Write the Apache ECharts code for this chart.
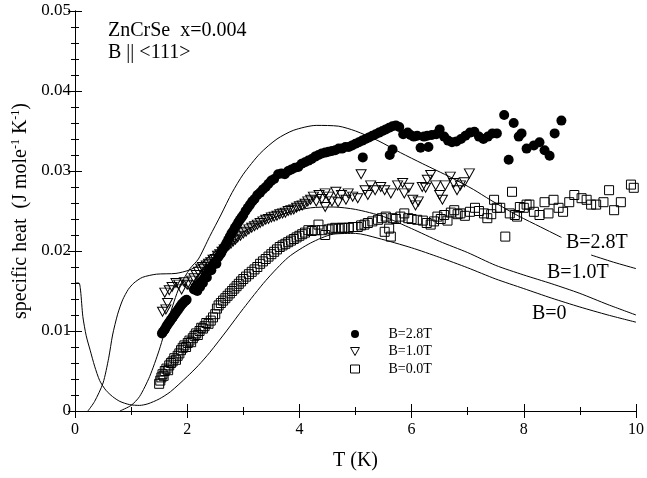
<!DOCTYPE html>
<html><head><meta charset="utf-8">
<script src="https://cdn.jsdelivr.net/npm/echarts@6/dist/echarts.min.js"></script>
<style>html,body{margin:0;padding:0;background:#fff}#c{width:647px;height:478px}</style>
</head><body><div id="c"></div>
<script>
// ---- theory curves ----
const curveB0T = [0, 0.07, 0.1, 0.14, 0.2, 0.27, 0.35, 0.44, 0.55, 0.67, 0.8, 0.97, 1.15, 1.3, 1.5, 1.7, 2.0, 2.2, 2.4, 2.7, 3.0, 3.4, 3.8, 4.2, 4.6, 5.0, 5.4, 6.0, 6.5, 7.0, 7.5, 8.0, 8.5, 9.0, 9.5, 10];
const curveB0V = [0.0160, 0.0160, 0.0150, 0.0118, 0.0094, 0.0076, 0.0056, 0.0038, 0.0026, 0.0018, 0.0012, 0.0008, 0.0007, 0.0009, 0.0015, 0.0024, 0.0043, 0.0057, 0.0073, 0.0100, 0.0128, 0.0163, 0.0192, 0.0210, 0.0221, 0.0222, 0.0216, 0.0204, 0.0192, 0.0179, 0.0165, 0.0153, 0.0141, 0.0130, 0.0120, 0.0111];
const curveB1T = [0.23, 0.35, 0.5, 0.6, 0.67, 0.76, 0.85, 0.95, 1.05, 1.2, 1.45, 1.8, 2.03, 2.2, 2.5, 2.8, 3.1, 3.4, 3.8, 4.2, 4.6, 5.0, 5.5, 6.0, 6.5, 7.0, 7.5, 8.0, 8.5, 9.0, 9.5, 10];
const curveB1V = [0, 0.0012, 0.0035, 0.0066, 0.0095, 0.0121, 0.0139, 0.0152, 0.0160, 0.0167, 0.0171, 0.0172, 0.0176, 0.0182, 0.0199, 0.0215, 0.0228, 0.0238, 0.0248, 0.0254, 0.0255, 0.0252, 0.0243, 0.0228, 0.0212, 0.0198, 0.0182, 0.0170, 0.0159, 0.0147, 0.0133, 0.0120];
const curveB28T = [0.8, 1.0, 1.15, 1.33, 1.5, 1.68, 1.86, 2.05, 2.2, 2.4, 2.6, 2.8, 3.0, 3.3, 3.6, 3.9, 4.3, 4.7, 5.0, 5.4, 5.8, 6.2, 6.7, 7.1, 7.4, 7.9, 8.3, 8.67, 8.9, 9.2, 9.6, 10];
const curveB28V = [0, 0.0007, 0.0018, 0.0043, 0.0076, 0.0118, 0.0155, 0.0178, 0.0190, 0.0218, 0.0245, 0.0273, 0.0296, 0.0322, 0.0340, 0.0351, 0.0357, 0.0356, 0.0350, 0.0338, 0.0323, 0.0309, 0.0292, 0.0277, 0.0264, 0.0244, 0.0230, 0.0217, null, 0.0195, 0.0186, 0.0178];

// ---- measured data [T, C] ----
const dataB28 = [
[1.55,0.0097],[1.57,0.0099],[1.59,0.0101],[1.61,0.0103],[1.63,0.0106],[1.65,0.0108],[1.67,0.0110],[1.69,0.0112],[1.71,0.0114],[1.73,0.0116],[1.75,0.0118],[1.77,0.0120],[1.79,0.0122],[1.81,0.0124],[1.83,0.0126],[1.85,0.0128],[1.87,0.0130],[1.89,0.0132],[1.91,0.0134],[1.93,0.0135],[1.95,0.0137],[1.97,0.0138],[1.99,0.0139],
[2.12,0.0152],[2.15,0.0155],[2.18,0.0150],[2.2,0.0158],[2.23,0.0155],[2.25,0.0162],[2.28,0.0160],[2.3,0.0166],[2.33,0.0170],[2.35,0.0167],[2.38,0.0175],[2.4,0.0178],[2.43,0.0176],[2.46,0.0183],[2.49,0.0186],[2.52,0.0184],[2.55,0.0192],[2.58,0.0195],[2.61,0.0198],[2.64,0.0203],[2.67,0.0206],[2.7,0.0210],[2.73,0.0214],[2.76,0.0218],[2.79,0.0222],[2.82,0.0225],[2.85,0.0229],[2.88,0.0232],[2.91,0.0236],[2.94,0.0239],[2.97,0.0242],[3.0,0.0245],[3.04,0.0250],[3.08,0.0254],[3.12,0.0258],[3.16,0.0262],[3.2,0.0265],[3.25,0.0270],[3.3,0.0273],[3.35,0.0277],[3.4,0.0280],[3.45,0.0284],[3.5,0.0288],[3.55,0.0290],[3.62,0.0296],[3.68,0.0297],[3.74,0.0296],[3.8,0.0300],[3.86,0.0302],[3.92,0.0304],[3.98,0.0305],[4.04,0.0309],[4.1,0.0311],[4.16,0.0313],[4.22,0.0315],[4.28,0.0318],[4.34,0.0320],[4.4,0.0322],[4.46,0.0323],[4.52,0.0324],[4.58,0.0325],[4.64,0.0326],[4.7,0.0328],[4.76,0.0328],[4.82,0.0330],[4.88,0.0330],[4.94,0.0332],[5.0,0.0334],[5.06,0.0336],[5.12,0.0338],[5.18,0.0340],[5.24,0.0342],[5.3,0.0344],[5.36,0.0346],[5.42,0.0348],[5.48,0.0350],[5.54,0.0352],[5.6,0.0354],[5.66,0.0356],[5.72,0.0357],[5.78,0.0355],
[5.13,0.0317],[5.61,0.0320],[5.66,0.0327],
[5.85,0.0346],[5.93,0.0348],[5.98,0.0345],[6.04,0.0343],[6.1,0.0344],[6.16,0.0329],[6.3,0.0330],[6.22,0.0343],[6.28,0.0344],[6.36,0.0345],[6.44,0.0346],[6.5,0.0352],[6.58,0.0343],[6.65,0.0338],[6.72,0.0336],[6.8,0.0337],[6.88,0.0340],[6.96,0.0344],[7.04,0.0348],[7.12,0.0349],[7.2,0.0343],[7.28,0.0340],[7.36,0.0343],[7.44,0.0347],[7.52,0.0347],[7.65,0.0370],[7.82,0.0360],[7.73,0.0314],[7.91,0.0343],[7.96,0.0347],[8.05,0.0328],[8.18,0.0332],[8.28,0.0336],[8.37,0.0326],[8.46,0.0319],[8.55,0.0347],[8.67,0.0363]
];
const dataB10 = [
[1.56,0.0124],[1.62,0.0127],[1.65,0.0135],[1.6,0.0148],[1.68,0.0151],[1.73,0.0155],[1.8,0.0160],[1.85,0.0158],[1.9,0.0152],[1.95,0.0161],[2.0,0.0158],[2.04,0.0157],[2.08,0.0163],[2.12,0.0166],[2.16,0.0170],[2.2,0.0174],[2.24,0.0178],[2.27,0.0180],
[2.3,0.0177],[2.34,0.0182],[2.38,0.0184],[2.42,0.0186],[2.46,0.0189],[2.5,0.0190],[2.54,0.0194],[2.58,0.0196],[2.62,0.0199],[2.66,0.0202],[2.7,0.0204],[2.74,0.0207],[2.78,0.0209],[2.82,0.0212],[2.86,0.0214],[2.9,0.0217],[2.95,0.0219],[3.0,0.0222],[3.05,0.0224],[3.1,0.0227],[3.15,0.0229],[3.2,0.0231],[3.25,0.0233],[3.3,0.0235],[3.35,0.0237],[3.4,0.0239],[3.45,0.0240],[3.5,0.0242],[3.55,0.0243],[3.6,0.0244],[3.65,0.0246],[3.7,0.0247],[3.75,0.0248],[3.8,0.0250],[3.85,0.0251],[3.9,0.0252],[3.95,0.0254],[4.0,0.0256],[4.05,0.0257],[4.1,0.0259],[4.15,0.0262],[4.2,0.0264],[4.25,0.0268],[4.3,0.0262],[4.35,0.0270],[4.4,0.0265],[4.46,0.0272],[4.46,0.0255],[4.52,0.0268],[4.58,0.0262],[4.65,0.0274],[4.69,0.0261],[4.75,0.0270],[4.83,0.0264],[4.87,0.0272],[4.95,0.0268],[5.04,0.0266],[5.1,0.0296],[5.17,0.0276],[5.22,0.0270],[5.27,0.0282],[5.35,0.0276],[5.45,0.0280],[5.52,0.0276],[5.63,0.0272],[5.75,0.0282],[5.84,0.0285],[5.87,0.0272],[5.95,0.0279],[6.02,0.0264],[6.07,0.0257],[6.12,0.0262],[6.19,0.0280],[6.25,0.0279],[6.28,0.0289],[6.34,0.0295],[6.43,0.0282],[6.5,0.0270],[6.55,0.0264],[6.6,0.0282],[6.69,0.0293],[6.75,0.0285],[6.81,0.0276],[6.87,0.0282],[6.94,0.0286],[7.03,0.0297]
];
const dataB00 = [
[1.5,0.0034],[1.52,0.0038],[1.54,0.0042],[1.56,0.0046],[1.58,0.0044],[1.6,0.0050],[1.63,0.0053],[1.66,0.0051],[1.68,0.0057],[1.71,0.0060],[1.74,0.0062],[1.77,0.0066],[1.8,0.0064],[1.83,0.0069],[1.86,0.0072],[1.89,0.0076],[1.92,0.0079],[1.95,0.0082],[1.98,0.0080],[2.01,0.0085],[2.04,0.0088],[2.07,0.0086],[2.1,0.0091],[2.13,0.0094],[2.16,0.0097],[2.19,0.0095],[2.22,0.0100],[2.25,0.0104],[2.28,0.0103],[2.31,0.0106],[2.34,0.0110],[2.38,0.0109],[2.42,0.0113],[2.46,0.0117],[2.5,0.0121],[2.53,0.0128],[2.56,0.0132],[2.6,0.0135],[2.64,0.0138],[2.68,0.0141],[2.72,0.0144],[2.76,0.0147],[2.8,0.0150],[2.84,0.0153],[2.88,0.0156],[2.92,0.0159],[2.96,0.0162],[3.0,0.0165],[3.05,0.0168],[3.1,0.0171],[3.15,0.0174],[3.2,0.0177],[3.25,0.0180],[3.3,0.0184],[3.35,0.0187],[3.4,0.0190],[3.45,0.0193],[3.5,0.0196],[3.55,0.0199],[3.6,0.0202],[3.65,0.0205],[3.7,0.0207],[3.75,0.0209],[3.8,0.0211],[3.85,0.0213],[3.9,0.0215],[3.95,0.0217],[4.0,0.0219],[4.05,0.0221],[4.1,0.0223],[4.16,0.0226],[4.22,0.0225],[4.28,0.0226],[4.34,0.0233],[4.4,0.0226],[4.46,0.0220],[4.52,0.0227],[4.58,0.0228],[4.64,0.0229],[4.7,0.0228],[4.76,0.0229],[4.81,0.0229],[4.88,0.0229],[4.95,0.0230],[5.04,0.0230],[5.1,0.0232],[5.16,0.0233],[5.22,0.0235],[5.3,0.0237],[5.4,0.0239],[5.47,0.0241],[5.52,0.0224],[5.54,0.0243],[5.6,0.0228],[5.63,0.0218],[5.66,0.0241],[5.72,0.0240],[5.8,0.0243],[5.87,0.0247],[5.94,0.0241],[6.0,0.0240],[6.1,0.0239],[6.2,0.0238],[6.27,0.0235],[6.34,0.0233],[6.4,0.0237],[6.46,0.0243],[6.52,0.0240],[6.58,0.0245],[6.64,0.0238],[6.7,0.0248],[6.76,0.0251],[6.82,0.0246],[6.87,0.0247],[6.95,0.0244],[7.04,0.0249],[7.13,0.0254],[7.2,0.0250],[7.29,0.0247],[7.35,0.0241],[7.42,0.0246],[7.47,0.0264],[7.52,0.0254],[7.58,0.0254],[7.67,0.0218],[7.75,0.0247],[7.79,0.0274],[7.84,0.0245],[7.88,0.0243],[7.93,0.0255],[8.0,0.0254],[8.05,0.0258],[8.1,0.0258],[8.18,0.0249],[8.28,0.0245],[8.37,0.0261],[8.44,0.0247],[8.53,0.0264],[8.62,0.0254],[8.7,0.0249],[8.81,0.0261],[8.9,0.0270],[9.03,0.0266],[9.12,0.0264],[9.2,0.0258],[9.29,0.0258],[9.42,0.0261],[9.52,0.0276],[9.61,0.0251],[9.73,0.0261],[9.91,0.0283],[9.96,0.0279]
];
const xTicks = [0, 2, 4, 6, 8, 10];
const yTicks = [0, 0.01, 0.02, 0.03, 0.04, 0.05];
const seriesNames = ['B=2.8T', 'B=1.0T', 'B=0.0T'];
const curveNames = ['B=2.8T', 'B=1.0T', 'B=0'];

const FONT = 'Liberation Serif';
const TRI = 'path://M0,0L10,0L5,9Z';
const zip = (a, b) => a.map((t, i) => [t, b[i]]);
const chart = echarts.init(document.getElementById('c'));
const axisBase = {
  type: 'value', axisLine: { show: true, lineStyle: { color: '#000', width: 1 } },
  axisTick: { show: true, inside: true, length: 7, lineStyle: { color: '#000' } },
  minorTick: { show: true, length: 4, lineStyle: { color: '#000' } },
  splitLine: { show: false }
};
const lineS = (name, d) => ({
  type: 'line', name: name + ' fit', data: d, showSymbol: false, symbol: 'none', smooth: 0.25,
  lineStyle: { color: '#000', width: 1 }, z: 5, silent: true, connectNulls: false
});
const open = { color: 'rgba(0,0,0,0)', borderColor: '#000', borderWidth: 1, opacity: 1 };
chart.setOption({
  animation: false,
  grid: { left: 75, right: 7, top: 11, bottom: 67 },
  xAxis: [
    Object.assign({}, axisBase, { min: 0, max: 10, interval: 2, minorTick: Object.assign({}, axisBase.minorTick, { splitNumber: 2 }),
      axisLabel: { fontFamily: FONT, fontSize: 16, color: '#000', margin: 11, formatter: v => xTicks.includes(v) ? String(v) : '' },
      name: 'T (K)', nameLocation: 'middle', nameGap: 40, nameTextStyle: { fontFamily: FONT, fontSize: 20, color: '#000' } }),
    Object.assign({}, axisBase, { position: 'top', min: 0, max: 10, interval: 2, minorTick: Object.assign({}, axisBase.minorTick, { splitNumber: 2 }), axisLabel: { show: false } })
  ],
  yAxis: [
    Object.assign({}, axisBase, { min: 0, max: 0.05, interval: 0.01, minorTick: Object.assign({}, axisBase.minorTick, { splitNumber: 5 }),
      axisLabel: { fontFamily: FONT, fontSize: 17, color: '#000', margin: 4, formatter: v => { const k = yTicks.findIndex(t => Math.abs(t - v) < 1e-9); return k < 0 ? '' : (k === 0 ? '0' : yTicks[k].toFixed(2)); } },
      name: '{n|specific heat  (J mole}{s|-1}{n| K}{s|-1}{n|)}', nameLocation: 'middle', nameGap: 36, nameRotate: 90,
      nameTextStyle: { rich: { n: { fontFamily: FONT, fontSize: 20, color: '#000', lineHeight: 22 }, s: { fontFamily: FONT, fontSize: 12, color: '#000', verticalAlign: 'top', lineHeight: 22 } } } }),
    Object.assign({}, axisBase, { position: 'right', min: 0, max: 0.05, interval: 0.01, minorTick: Object.assign({}, axisBase.minorTick, { splitNumber: 5 }), axisLabel: { show: false } })
  ],
  legend: {
    orient: 'vertical', left: 345, top: 322, itemWidth: 9, itemHeight: 8, itemGap: 3.5,
    data: [{ name: seriesNames[0], icon: 'circle', itemStyle: { color: '#000', opacity: 1 } },
           { name: seriesNames[1], icon: TRI, itemStyle: open },
           { name: seriesNames[2], icon: 'rect', itemStyle: open }],
    textStyle: { fontFamily: FONT, fontSize: 14, color: '#000', padding: [0, 0, 0, 24] }, selectedMode: false
  },
  graphic: [
    { type: 'text', left: 108, top: 21, style: { text: 'ZnCrSe  x=0.004', font: '20px "Liberation Serif"', fill: '#000' } },
    { type: 'text', left: 108, top: 43, style: { text: 'B || <111>', font: '20px "Liberation Serif"', fill: '#000' } },
    { type: 'text', left: 566, top: 233, style: { text: curveNames[0], font: '20px "Liberation Serif"', fill: '#000' } },
    { type: 'text', left: 547, top: 263, style: { text: curveNames[1], font: '20px "Liberation Serif"', fill: '#000' } },
    { type: 'text', left: 532, top: 304, style: { text: curveNames[2], font: '20px "Liberation Serif"', fill: '#000' } }
  ],
  series: [
    { type: 'scatter', name: seriesNames[2], data: dataB00, symbol: 'rect', symbolSize: 9, itemStyle: open, silent: true, z: 2 },
    { type: 'scatter', name: seriesNames[1], data: dataB10, symbol: TRI, symbolSize: [10, 9], itemStyle: open, silent: true, z: 3 },
    { type: 'scatter', name: seriesNames[0], data: dataB28, symbol: 'circle', symbolSize: 10, itemStyle: { color: '#000', opacity: 1 }, silent: true, z: 4 },
    lineS(curveNames[2], zip(curveB0T, curveB0V)),
    lineS(curveNames[1], zip(curveB1T, curveB1V)),
    lineS(curveNames[0], zip(curveB28T, curveB28V))
  ]
});
</script></body></html>
